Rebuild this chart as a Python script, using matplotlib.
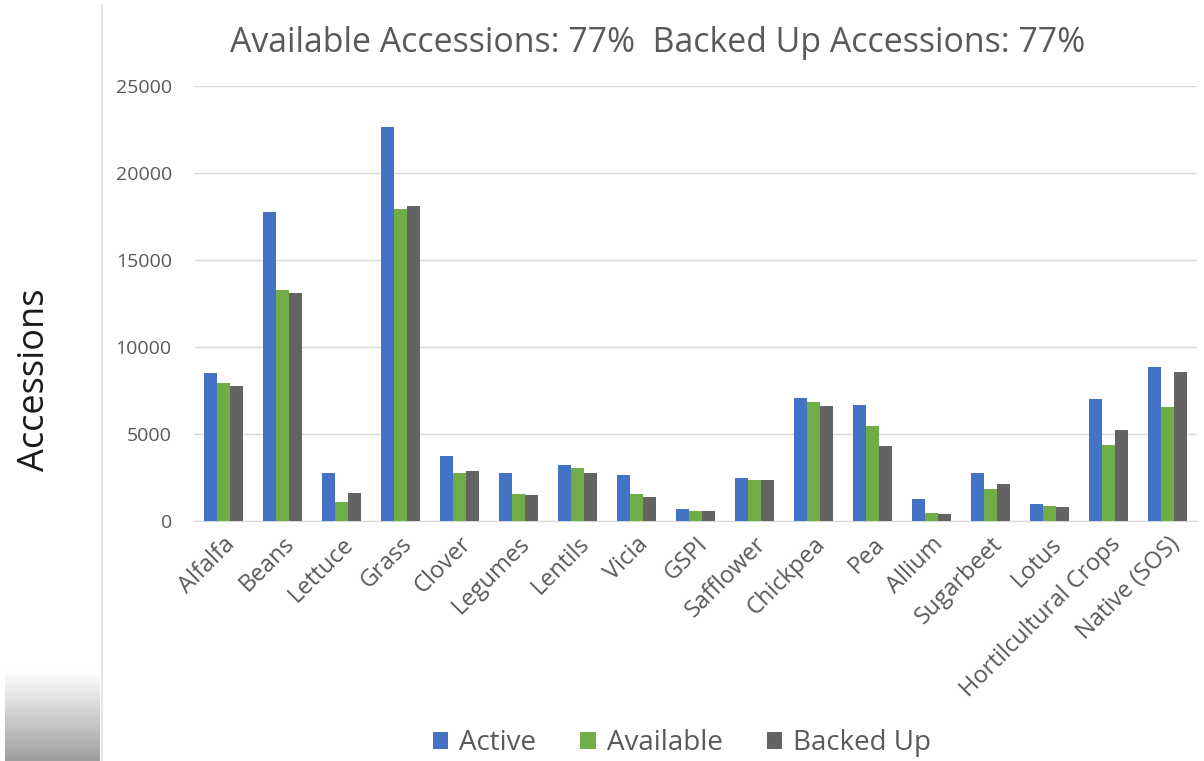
import numpy as np
import matplotlib
matplotlib.use("Agg")
import matplotlib.pyplot as plt
from matplotlib.lines import Line2D

plt.rcParams['font.family'] = ['Open Sans', 'DejaVu Sans']

# data
categories = ['Alfalfa', 'Beans', 'Lettuce', 'Grass', 'Clover', 'Legumes', 'Lentils',
              'Vicia', 'GSPI', 'Safflower', 'Chickpea', 'Pea', 'Allium', 'Sugarbeet',
              'Lotus', 'Hortilcultural Crops', 'Native (SOS)']
active = [8520, 17730, 2740, 22630, 3720, 2740, 3230, 2620, 690, 2450, 7050, 6660,
          1260, 2760, 990, 7010, 8840]
available = [7940, 13280, 1090, 17940, 2770, 1530, 3040, 1570, 560, 2340, 6850, 5460,
             460, 1840, 880, 4370, 6530]
backed_up = [7770, 13110, 1630, 18090, 2850, 1480, 2770, 1400, 570, 2370, 6600, 4290,
             420, 2140, 820, 5230, 8540]
series_names = ['Active', 'Available', 'Backed Up']
colors = ['#4472C4', '#70AD47', '#636363']
yticks = [0, 5000, 10000, 15000, 20000, 25000]

W, H = 1204, 761
fig = plt.figure(figsize=(W / 100, H / 100), dpi=100)
fig.patch.set_facecolor('white')

# slide edge decoration on the left
fig.add_artist(Line2D([102 / W, 102 / W], [0, 1 - 5 / H], color='#e6e6e6', lw=1.5))
grad_ax = fig.add_axes([5 / W, 0, 95 / W, 91 / H])
grad = np.linspace(1.0, 0.62, 100).reshape(-1, 1)
grad_ax.imshow(grad, aspect='auto', cmap='gray', vmin=0, vmax=1, extent=[0, 1, 0, 1])
grad_ax.axis('off')

ax = fig.add_axes([194 / W, 1 - 521 / H, (1197 - 194) / W, (521 - 85.7) / H])
x = np.arange(len(categories))
bw = 0.22
for i, (vals, name, c) in enumerate(zip([active, available, backed_up], series_names, colors)):
    ax.bar(x + (i - 1) * bw, vals, bw, color=c, label=name, zorder=3)

ax.set_xlim(-0.5, len(categories) - 0.5)
ax.set_ylim(0, 25000)
ax.set_yticks(yticks)
ax.set_yticklabels([str(v) for v in yticks])
ax.set_xticks(x)
ax.set_xticklabels(categories, rotation=45, ha='right', rotation_mode='anchor')
ax.tick_params(axis='both', length=0, colors='#595959')
ax.tick_params(axis='y', pad=16, labelsize=14)
ax.tick_params(axis='x', pad=8, labelsize=17)
ax.grid(axis='y', color='#d9d9d9', lw=1, zorder=0)
for s in ['top', 'right', 'left']:
    ax.spines[s].set_visible(False)
ax.spines['bottom'].set_color('#d9d9d9')

fig.text(658 / W, 1 - 43 / H, 'Available Accessions: 77%  Backed Up Accessions: 77%',
         ha='center', va='center', fontsize=24.4, color='#595959')
fig.text(35 / W, 1 - 380 / H, 'Accessions', rotation=90, ha='center', va='center',
         fontsize=26, color='#1a1a1a')

handles, labels = ax.get_legend_handles_labels()
fig.legend(handles, labels, loc='center', bbox_to_anchor=(682 / W, 1 - 743 / H), ncol=3,
           frameon=False, fontsize=20, handlelength=0.55, handleheight=0.55,
           handletextpad=0.4, columnspacing=1.6, labelcolor='#595959')

fig.savefig('out.png', dpi=100, facecolor='white')
